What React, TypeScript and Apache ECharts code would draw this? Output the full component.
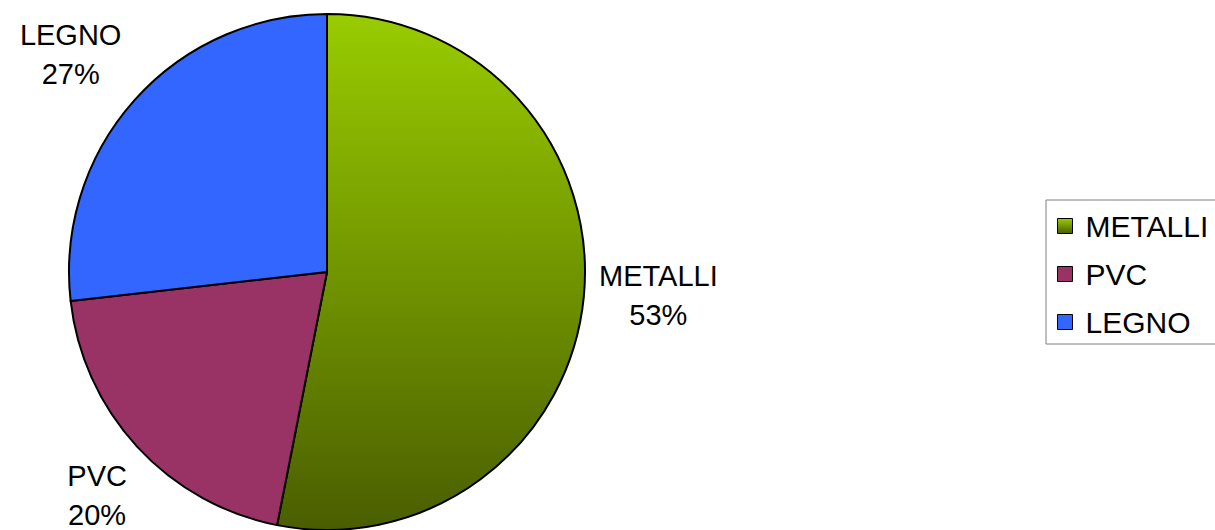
import React, { useEffect, useRef } from "react";
import * as echarts from "echarts";

const categories = ["METALLI", "PVC", "LEGNO"];
const values = [53.1, 20.1, 26.8];
const metalliGradient = ["#99CC00", "#4A5E00"];
const flatColors = ["", "#993366", "#3366FF"];

const CX = 327;
const CY = 272;
const R = 258;
const LABEL_CLEAR = 272;
const LABEL_ANGLE_SHIFT = (-1.5 * Math.PI) / 180;

export default function App() {
  const ref = useRef<HTMLDivElement>(null);
  useEffect(() => {
    document.body.style.margin = "0";
    const chart = echarts.init(ref.current!, null, { renderer: "svg" });
    const total = values.reduce((a, b) => a + b, 0);
    const mids: number[] = [];
    let cum = 0;
    values.forEach((v) => {
      mids.push(((cum + v / 2) / total) * Math.PI * 2);
      cum += v;
    });
    const data = categories.map((name, i) => ({
      name,
      value: values[i],
      itemStyle: {
        color:
          i === 0
            ? new echarts.graphic.LinearGradient(0, 0, 0, 1, [
                { offset: 0, color: metalliGradient[0] },
                { offset: 1, color: metalliGradient[1] },
              ])
            : flatColors[i],
      },
    }));
    chart.setOption({
      animation: false,
      legend: {
        orient: "vertical",
        left: 1046,
        top: 200,
        data: categories,
        icon: "rect",
        itemWidth: 15,
        itemHeight: 15,
        itemGap: 18,
        padding: [11, 20, 7, 11],
        borderColor: "#7f7f7f",
        borderWidth: 1,
        selectedMode: false,
        itemStyle: { borderColor: "#000", borderWidth: 1 },
        textStyle: {
          fontSize: 30,
          lineHeight: 30,
          color: "#000",
          fontFamily: "Liberation Sans",
          padding: [0, 0, 0, 8],
        },
      },
      series: [
        {
          type: "pie",
          center: [CX, CY],
          radius: R,
          startAngle: 90,
          clockwise: true,
          avoidLabelOverlap: false,
          silent: true,
          emphasis: { disabled: true },
          itemStyle: { borderColor: "#000", borderWidth: 2 },
          label: {
            show: true,
            position: "outside",
            fontSize: 29,
            lineHeight: 39,
            color: "#000",
            fontFamily: "Liberation Sans",
            formatter: (p: any) => `${p.name}\n${Math.round(p.percent)}%`,
          },
          labelLine: { show: false, length: 20, length2: 0 },
          labelLayout: (p: any) => {
            const w = p.labelRect.width;
            const h = p.labelRect.height;
            const a = mids[p.dataIndex] + LABEL_ANGLE_SHIFT;
            const ux = Math.sin(a);
            const uy = -Math.cos(a);
            const dist = (t: number) => {
              const dx = Math.max(Math.abs(ux * t) - w / 2, 0);
              const dy = Math.max(Math.abs(uy * t) - h / 2, 0);
              return Math.hypot(dx, dy);
            };
            let lo = 0;
            let hi = 1000;
            for (let k = 0; k < 50; k++) {
              const m = (lo + hi) / 2;
              if (dist(m) < LABEL_CLEAR) lo = m;
              else hi = m;
            }
            return {
              x: CX + ux * lo,
              y: CY + uy * lo,
              align: "center",
              verticalAlign: "middle",
            };
          },
          data,
        },
      ],
    });
    return () => chart.dispose();
  }, []);
  return <div ref={ref} style={{ width: 1215, height: 530 }} />;
}
